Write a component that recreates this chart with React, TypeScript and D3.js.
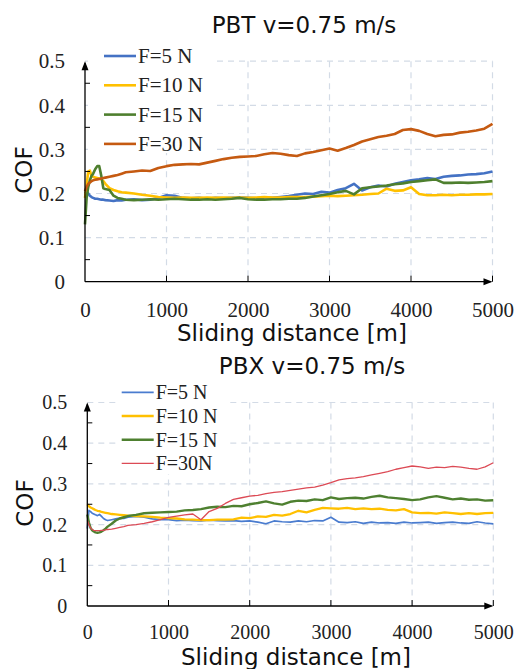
import React from "react";
import * as d3 from "d3";

// sliding distance [m] at which each COF value was read
const distance = [
  0, 20, 40, 60, 80, 100, 125, 150, 175, 200, 225, 250, 300, 350, 400, 450, 500,
  600, 700, 800, 900, 1000, 1100, 1200, 1300, 1400, 1500, 1600, 1700, 1800, 1900, 2000,
  2100, 2200, 2300, 2400, 2500, 2600, 2700, 2800, 2900, 3000,
  3100, 3200, 3300, 3400, 3500, 3600, 3700, 3800, 3900, 4000,
  4100, 4200, 4300, 4400, 4500, 4600, 4700, 4800, 4900, 5000,
];

const xTicks = [0, 1000, 2000, 3000, 4000, 5000];
const yTicks = [0, 0.1, 0.2, 0.3, 0.4, 0.5];
const yMinor = [0.05, 0.15, 0.25, 0.35, 0.45];

// PBT
const pbtF5 = [
  0.200, 0.205, 0.200, 0.195, 0.192, 0.190, 0.188, 0.188, 0.187, 0.186, 0.186, 0.185, 0.184, 0.183, 0.185, 0.184, 0.186,
  0.187, 0.185, 0.186, 0.190, 0.196, 0.195, 0.190, 0.189, 0.190, 0.188, 0.190, 0.189, 0.190, 0.191, 0.190,
  0.189, 0.191, 0.190, 0.192, 0.194, 0.197, 0.200, 0.199, 0.204, 0.202,
  0.208, 0.212, 0.222, 0.207, 0.214, 0.218, 0.216, 0.222, 0.226, 0.230,
  0.232, 0.235, 0.233, 0.238, 0.240, 0.241, 0.243, 0.244, 0.246, 0.250,
];
const pbtF10 = [
  0.190, 0.220, 0.250, 0.252, 0.240, 0.238, 0.236, 0.235, 0.234, 0.232, 0.228, 0.222, 0.212, 0.208, 0.205, 0.203, 0.202,
  0.200, 0.197, 0.195, 0.192, 0.191, 0.190, 0.191, 0.190, 0.190, 0.191, 0.190, 0.191, 0.190, 0.191, 0.190,
  0.191, 0.192, 0.191, 0.191, 0.192, 0.192, 0.192, 0.193, 0.194, 0.195,
  0.194, 0.195, 0.196, 0.197, 0.199, 0.200, 0.211, 0.206, 0.207, 0.214,
  0.199, 0.196, 0.196, 0.197, 0.196, 0.197, 0.197, 0.198, 0.198, 0.199,
];
const pbtF15 = [
  0.130, 0.190, 0.215, 0.230, 0.240, 0.245, 0.255, 0.262, 0.262, 0.240, 0.212, 0.210, 0.208, 0.195, 0.190, 0.188, 0.186,
  0.185, 0.186, 0.187, 0.186, 0.187, 0.188, 0.187, 0.186, 0.186, 0.187, 0.186, 0.187, 0.188, 0.190, 0.187,
  0.186, 0.186, 0.187, 0.187, 0.188, 0.188, 0.190, 0.193, 0.196, 0.199,
  0.203, 0.206, 0.198, 0.212, 0.214, 0.216, 0.218, 0.221, 0.223, 0.226,
  0.228, 0.230, 0.232, 0.224, 0.224, 0.225, 0.224, 0.225, 0.226, 0.228,
];
const pbtF30 = [
  0.205, 0.215, 0.222, 0.225, 0.228, 0.230, 0.231, 0.232, 0.233, 0.234, 0.235, 0.236, 0.238, 0.240, 0.242, 0.245, 0.248,
  0.250, 0.252, 0.251, 0.258, 0.262, 0.265, 0.266, 0.267, 0.266, 0.270, 0.274, 0.278, 0.281, 0.283, 0.284,
  0.285, 0.289, 0.292, 0.290, 0.287, 0.285, 0.291, 0.294, 0.298, 0.302,
  0.297, 0.303, 0.310, 0.318, 0.323, 0.328, 0.331, 0.335, 0.344, 0.346,
  0.342, 0.335, 0.330, 0.333, 0.334, 0.338, 0.340, 0.343, 0.347, 0.358,
];

// PBX
const pbxF5 = [
  0.190, 0.235, 0.232, 0.228, 0.226, 0.224, 0.222, 0.225, 0.220, 0.215, 0.212, 0.210, 0.212, 0.214, 0.216, 0.215, 0.218,
  0.220, 0.218, 0.214, 0.212, 0.212, 0.210, 0.211, 0.210, 0.209, 0.211, 0.210, 0.209, 0.210, 0.208, 0.209,
  0.206, 0.202, 0.209, 0.207, 0.206, 0.209, 0.207, 0.210, 0.209, 0.218,
  0.206, 0.205, 0.207, 0.203, 0.206, 0.204, 0.205, 0.203, 0.206, 0.204,
  0.205, 0.206, 0.203, 0.205, 0.206, 0.204, 0.203, 0.207, 0.204, 0.202,
];
const pbxF10 = [
  0.250, 0.245, 0.242, 0.240, 0.238, 0.236, 0.234, 0.233, 0.231, 0.230, 0.229, 0.228, 0.226, 0.225, 0.224, 0.223, 0.222,
  0.221, 0.220, 0.219, 0.217, 0.216, 0.215, 0.213, 0.212, 0.211, 0.211, 0.212, 0.212, 0.213, 0.217, 0.216,
  0.220, 0.219, 0.224, 0.222, 0.226, 0.234, 0.230, 0.236, 0.241, 0.240,
  0.239, 0.241, 0.238, 0.240, 0.238, 0.239, 0.236, 0.235, 0.238, 0.230,
  0.228, 0.229, 0.227, 0.230, 0.228, 0.226, 0.228, 0.226, 0.228, 0.229,
];
const pbxF15 = [
  0.225, 0.205, 0.192, 0.186, 0.183, 0.181, 0.180, 0.181, 0.183, 0.186, 0.190, 0.195, 0.202, 0.210, 0.215, 0.218, 0.221,
  0.224, 0.228, 0.229, 0.230, 0.231, 0.232, 0.235, 0.236, 0.238, 0.242, 0.244, 0.243, 0.246, 0.245, 0.250,
  0.253, 0.257, 0.252, 0.249, 0.256, 0.259, 0.258, 0.262, 0.260, 0.267,
  0.263, 0.265, 0.266, 0.264, 0.268, 0.271, 0.267, 0.265, 0.263, 0.260,
  0.262, 0.267, 0.270, 0.266, 0.262, 0.264, 0.261, 0.262, 0.259, 0.260,
];
const pbxF30 = [
  0.210, 0.200, 0.192, 0.188, 0.186, 0.185, 0.185, 0.185, 0.186, 0.186, 0.187, 0.188, 0.189, 0.191, 0.193, 0.195, 0.198,
  0.200, 0.203, 0.207, 0.212, 0.218, 0.221, 0.224, 0.226, 0.212, 0.232, 0.240, 0.252, 0.262, 0.266, 0.270,
  0.272, 0.276, 0.279, 0.281, 0.284, 0.287, 0.290, 0.292, 0.297, 0.303,
  0.310, 0.313, 0.315, 0.318, 0.322, 0.326, 0.330, 0.336, 0.340, 0.344,
  0.342, 0.338, 0.341, 0.340, 0.343, 0.341, 0.338, 0.336, 0.342, 0.352,
];

const pbtLabels = ["F=5 N", "F=10 N", "F=15 N", "F=30 N"];
const pbxLabels = ["F=5 N", "F=10 N", "F=15 N", "F=30N"];

const SANS = "DejaVu Sans";
const SERIF = "Liberation Serif";

function Panel(props: any) {
  const { title, series, labels, colors, widths, box, titlePos, xTitlePos, yTitlePos, legend, tickFont } = props;

  const x = d3.scaleLinear().domain([0, 5000]).range([box.left, box.right]);
  const y = d3.scaleLinear().domain([0, 0.5]).range([box.bottom, box.top]);

  const line = d3
    .line<number>()
    .x((_, i) => x(distance[i]))
    .y((d) => y(d));

  const xAxisRef = (ref: SVGGElement | null) => {
    if (!ref) return;
    const axis = d3.axisBottom(x).tickValues(xTicks).tickSize(0).tickPadding(tickFont.padX).tickFormat(d3.format("d"));
    const g = d3.select(ref).call(axis as any);
    g.select(".domain").remove();
    g.attr("font-family", SERIF).attr("font-size", tickFont.size);
    g.selectAll("text").style("font-family", SERIF).attr("fill", "#222");
  };

  const yAxisRef = (ref: SVGGElement | null) => {
    if (!ref) return;
    const axis = d3
      .axisLeft(y)
      .tickValues(yTicks)
      .tickSize(0)
      .tickPadding(20)
      .tickFormat((d: any) => (d === 0 ? "0" : d3.format(".1f")(d)));
    const g = d3.select(ref).call(axis as any);
    g.select(".domain").remove();
    g.attr("font-family", SERIF).attr("font-size", tickFont.size);
    g.selectAll("text").style("font-family", SERIF).attr("fill", "#222");
  };

  const x0 = x(0);
  const y0 = y(0);
  const yTop = y(0.5);
  const xEnd = x(5000);

  return (
    <g>
      {/* grid */}
      {yTicks.slice(1).map((t) => (
        <line key={"gy" + t} x1={x0} x2={xEnd} y1={y(t)} y2={y(t)} stroke="#d3dbe6" strokeWidth={1.2} strokeDasharray="6,5" />
      ))}
      {xTicks.slice(1).map((t) => (
        <line key={"gx" + t} x1={x(t)} x2={x(t)} y1={yTop} y2={y0} stroke="#d3dbe6" strokeWidth={1.2} strokeDasharray="6,5" />
      ))}

      {/* legend background hides the grid behind it */}
      <rect x={legend.bg[0]} y={legend.bg[1]} width={legend.bg[2]} height={legend.bg[3]} fill="#fff" />

      {/* series */}
      {series.map((s: number[], i: number) => (
        <path key={"s" + i} d={line(s) || ""} fill="none" stroke={colors[i]} strokeWidth={widths[i]} strokeLinejoin="round" />
      ))}

      {/* axes */}
      <line x1={x0} x2={x0} y1={y0} y2={yTop + 2} stroke="#000" strokeWidth={1.3} />
      <path d={`M${x0 - 3.5},${yTop + 9} L${x0},${yTop} L${x0 + 3.5},${yTop + 9} Z`} fill="#000" />
      <line x1={x0} x2={xEnd - 2} y1={y0} y2={y0} stroke="#000" strokeWidth={1.3} />
      <path d={`M${xEnd - 9},${y0 - 3.5} L${xEnd},${y0} L${xEnd - 9},${y0 + 3.5} Z`} fill="#000" />
      {yMinor.map((t) => (
        <line key={"my" + t} x1={x0} x2={x0 + 5} y1={y(t)} y2={y(t)} stroke="#000" strokeWidth={1} />
      ))}
      {xTicks.slice(1).map((t) => (
        <line key={"tx" + t} x1={x(t)} x2={x(t)} y1={y0} y2={y0 - 6} stroke="#000" strokeWidth={1} />
      ))}

      <g ref={xAxisRef} transform={`translate(0, ${y0})`} />
      <g ref={yAxisRef} transform={`translate(${x0}, 0)`} />

      {/* legend */}
      {labels.map((l: string, i: number) => {
        const ly = legend.y + i * legend.step;
        return (
          <g key={"lg" + i}>
            <line x1={legend.x} x2={legend.x + 32} y1={ly} y2={ly} stroke={colors[i]} strokeWidth={widths[i]} />
            <text x={legend.x + 34} y={ly + 7} style={{ fontFamily: SERIF, fontSize: legend.font }} fill="#222">
              {l}
            </text>
          </g>
        );
      })}

      {/* titles */}
      <text x={titlePos[0]} y={titlePos[1]} textAnchor="middle" style={{ fontFamily: SANS, fontSize: 23 }} fill="#111">
        {title}
      </text>
      <text x={xTitlePos[0]} y={xTitlePos[1]} textAnchor="middle" style={{ fontFamily: SANS, fontSize: 23 }} fill="#111">
        Sliding distance [m]
      </text>
      <text
        transform={`translate(${yTitlePos[0]}, ${yTitlePos[1]}) rotate(-90)`}
        textAnchor="middle"
        dy="0.36em"
        style={{ fontFamily: SANS, fontSize: 23 }}
        fill="#111"
      >
        COF
      </text>
    </g>
  );
}

export default function App() {
  return (
    <svg width={517} height={669} style={{ position: "absolute", left: 0, top: 0, background: "#fff" }}>
      <rect width={517} height={669} fill="#fff" />
      <Panel
        title="PBT v=0.75 m/s"
        series={[pbtF5, pbtF10, pbtF15, pbtF30]}
        labels={pbtLabels}
        colors={["#4472C4", "#FFC000", "#4E7F2E", "#C55A11"]}
        widths={[2.6, 2.6, 2.6, 2.6]}
        box={{ left: 85, right: 492.5, top: 61.2, bottom: 281.7 }}
        titlePos={[304, 33]}
        xTitlePos={[292, 341]}
        yTitlePos={[24, 170]}
        tickFont={{ size: 21, padX: 20 }}
        legend={{ x: 104, y: 56, step: 29.3, font: 21, bg: [88, 40, 124, 113] }}
      />
      <Panel
        title="PBX v=0.75 m/s"
        series={[pbxF5, pbxF10, pbxF15, pbxF30]}
        labels={pbxLabels}
        colors={["#4A7CCF", "#FFC000", "#4E8030", "#DC4A55"]}
        widths={[1.7, 2.3, 2.4, 1.3]}
        box={{ left: 87.3, right: 493.3, top: 402.5, bottom: 606 }}
        titlePos={[312, 374]}
        xTitlePos={[296, 665]}
        yTitlePos={[25, 503]}
        tickFont={{ size: 20, padX: 19 }}
        legend={{ x: 121.7, y: 392.3, step: 23.7, font: 20, bg: [118, 380, 110, 94] }}
      />
    </svg>
  );
}
